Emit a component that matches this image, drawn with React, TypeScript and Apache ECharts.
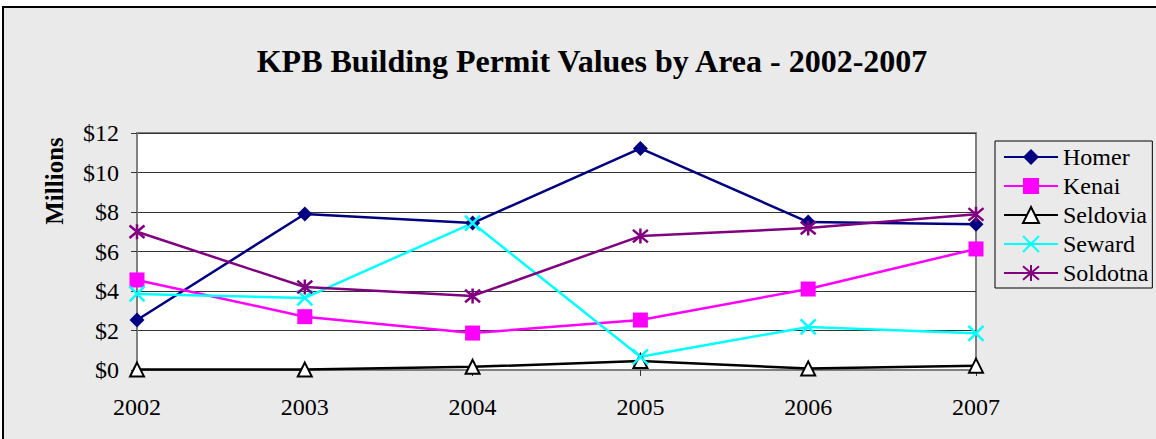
import React, { useEffect, useRef } from "react";
import * as echarts from "echarts";

const years = ["2002", "2003", "2004", "2005", "2006", "2007"];
const homer = [2.53, 7.9, 7.44, 11.22, 7.49, 7.38];
const kenai = [4.56, 2.7, 1.87, 2.53, 4.1, 6.13];
const seldovia = [0.02, 0.02, 0.16, 0.45, 0.08, 0.22];
const seward = [3.85, 3.65, 7.44, 0.67, 2.18, 1.86];
const soldotna = [7.0, 4.2, 3.75, 6.78, 7.19, 7.88];

const FONT = "'Liberation Serif', 'Times New Roman', serif";

export default function App() {
  const ref = useRef<HTMLDivElement>(null);
  useEffect(() => {
    if (!ref.current) return;
    const chart = echarts.init(ref.current, undefined, { renderer: "svg" });
    const mk = (name: string, data: number[], color: string, symbol: string, extra: any = {}) => ({
      name,
      type: "line",
      data,
      symbol,
      symbolSize: 15,
      lineStyle: { color, width: 2.5 },
      itemStyle: { color, ...extra },
      emphasis: { disabled: true },
    });
    chart.setOption({
      animation: false,
      backgroundColor: "#ffffff",
      title: {
        text: "KPB Building Permit Values by Area - 2002-2007",
        left: 587,
        top: 40,
        textAlign: "center",
        textStyle: { fontFamily: FONT, fontSize: 32, fontWeight: "bold", color: "#000" },
      },
      graphic: [
        {
          type: "rect",
          z: -10,
          silent: true,
          shape: { x: 3, y: 7, width: 1300, height: 600 },
          style: { fill: "#EAEAEA", stroke: "#000", lineWidth: 2 },
        },
        {
          type: "text",
          x: 54,
          y: 181,
          rotation: Math.PI / 2,
          style: {
            text: "Millions",
            fontFamily: FONT,
            fontSize: 25,
            fontWeight: "bold",
            fill: "#000",
            align: "center",
            verticalAlign: "middle",
          },
        },
      ],
      legend: {
        orient: "vertical",
        left: 995,
        top: 141,
        padding: [4, 4, 3, 8],
        itemGap: 5,
        itemWidth: 54,
        itemHeight: 20,
        borderColor: "#000",
        borderWidth: 1,
        borderRadius: 0,
        backgroundColor: "#EAEAEA",
        textStyle: { fontFamily: FONT, fontSize: 24, color: "#000" },
        data: ["Homer", "Kenai", "Seldovia", "Seward", "Soldotna"],
      },
      grid: {
        left: 137,
        top: 133,
        width: 839,
        height: 237,
        show: true,
        backgroundColor: "#ffffff",
        borderColor: "#808080",
        borderWidth: 2,
      },
      xAxis: {
        type: "category",
        data: years,
        boundaryGap: false,
        axisLine: { lineStyle: { color: "#808080", width: 2 } },
        axisTick: { show: true, length: 6, lineStyle: { color: "#333" } },
        axisLabel: { fontFamily: FONT, fontSize: 24, color: "#000", margin: 25 },
        splitLine: { show: false },
      },
      yAxis: {
        type: "value",
        min: 0,
        max: 12,
        interval: 2,
        axisLine: { show: true, lineStyle: { color: "#808080", width: 2 } },
        axisTick: { show: true, length: 6, lineStyle: { color: "#333" } },
        axisLabel: { fontFamily: FONT, fontSize: 24, color: "#000", margin: 18, formatter: "${value}" },
        splitLine: { show: true, lineStyle: { color: "#333", width: 1 } },
      },
      series: [
        mk("Homer", homer, "#000080", "diamond"),
        mk("Kenai", kenai, "#FF00FF", "rect"),
        {
          ...mk("Seldovia", seldovia, "#000000", "triangle"),
          symbolSize: 14,
          itemStyle: { color: "#ffffff", borderColor: "#000000", borderWidth: 2 },
        },
        {
          ...mk("Seward", seward, "#00FFFF", "path://M0,0L10,10M10,0L0,10"),
          itemStyle: { color: "#00FFFF", borderColor: "#00FFFF", borderWidth: 2.5 },
        },
        {
          ...mk("Soldotna", soldotna, "#800080", "path://M0,1L10,11M10,1L0,11M5,0L5,12"),
          itemStyle: { color: "#800080", borderColor: "#800080", borderWidth: 2.5 },
        },
      ],
    });
    return () => chart.dispose();
  }, []);
  return (
    <div
      ref={ref}
      style={{ position: "fixed", left: 0, top: 0, width: 1156, height: 439 }}
    />
  );
}
